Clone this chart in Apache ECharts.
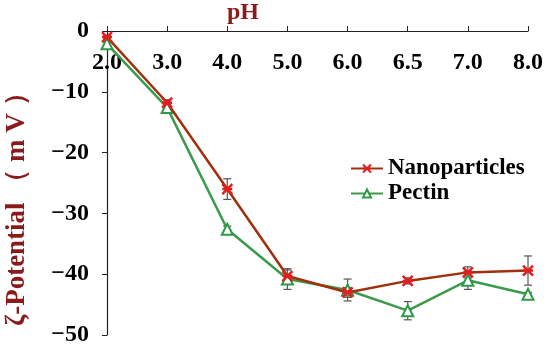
<!DOCTYPE html>
<html><head><meta charset="utf-8">
<script src="https://cdn.jsdelivr.net/npm/echarts@6/dist/echarts.min.js"></script>
<style>html,body{margin:0;padding:0;background:#fff}#c{width:550px;height:348px}</style>
</head><body><div id="c"></div>
<script>
const categories = ['2.0','3.0','4.0','5.0','6.0','6.5','7.0','8.0'];
const nanoValues = [-1.0, -11.8, -26.0, -40.3, -43.0, -41.1, -39.7, -39.4];
const nanoErr = [0.3, 0.5, 1.7, 1.0, 0.8, 0.5, 0.9, 2.4];
const pectinValues = [-2.1, -12.6, -32.6, -40.8, -42.6, -46.0, -41.0, -43.3];
const pectinErr = [0.3, 0.5, 0.5, 1.7, 1.8, 1.5, 1.5, 0.3];
const yTicks = [0, -10, -20, -30, -40, -50];

const FONT = '"Liberation Serif", "Times New Roman", serif';
const starPath = 'path://M0,0 L10,10 M10,0 L0,10 M0,5 L10,5';

function errSeries(vals, errs, color) {
  return {
    type: 'custom',
    silent: true,
    z: 1,
    data: vals.map((v, i) => [i, v, errs[i]]),
    renderItem: function (params, api) {
      const x = api.value(0), y = api.value(1), e = api.value(2);
      const top = api.coord([x, y + e]);
      const bot = api.coord([x, y - e]);
      const w = 4;
      return {
        type: 'group',
        children: [
          {type: 'line', shape: {x1: top[0], y1: top[1], x2: bot[0], y2: bot[1]}, style: {stroke: color, lineWidth: 1.2}},
          {type: 'line', shape: {x1: top[0]-w, y1: top[1], x2: top[0]+w, y2: top[1]}, style: {stroke: color, lineWidth: 1.2}},
          {type: 'line', shape: {x1: bot[0]-w, y1: bot[1], x2: bot[0]+w, y2: bot[1]}, style: {stroke: color, lineWidth: 1.2}}
        ]
      };
    }
  };
}

const chart = echarts.init(document.getElementById('c'));
chart.setOption({
  animation: false,
  backgroundColor: '#fff',
  grid: {left: 107, right: 22, top: 31, bottom: 13},
  xAxis: {
    type: 'category',
    data: categories,
    position: 'top',
    boundaryGap: false,
    axisLine: {lineStyle: {color: '#222', width: 1.2}},
    axisTick: {inside: false, length: 5, alignWithLabel: true, lineStyle: {color: '#222'}},
    axisLabel: {inside: true, margin: 20, color: '#000', fontFamily: FONT, fontWeight: 'bold', fontSize: 24},
    splitLine: {show: false}
  },
  yAxis: {
    type: 'value',
    min: -50, max: 0, interval: 10,
    axisLine: {show: true, lineStyle: {color: '#222', width: 1.2}},
    axisTick: {show: true, length: 5, lineStyle: {color: '#222'}},
    axisLabel: {margin: 18, color: '#000', fontFamily: FONT, fontWeight: 'bold', fontSize: 24,
      formatter: v => (yTicks.includes(v) ? (v < 0 ? '\u2212' + Math.abs(v) : String(v)) : '')},
    splitLine: {show: false}
  },
  legend: {
    orient: 'vertical',
    left: 345, top: 152,
    itemWidth: 32, itemHeight: 10, itemGap: 2,
    textStyle: {color: '#000', fontFamily: FONT, fontWeight: 'bold', fontSize: 23},
    data: ['Nanoparticles', 'Pectin']
  },
  graphic: [
    {type: 'text', left: 227, top: 1, style: {text: 'pH', fill: '#8b1a1a', font: 'bold 24px ' + FONT}},
    {type: 'text', x: 4, y: 326, rotation: Math.PI / 2, style: {text: 'ζ-Potential （ m V ）', fill: '#8b1a1a', font: 'bold 27px ' + FONT, textAlign: 'left', textVerticalAlign: 'top'},
     originX: 0, originY: 0}
  ],
  series: [
    errSeries(nanoValues, nanoErr, '#555'),
    errSeries(pectinValues, pectinErr, '#555'),
    {
      name: 'Pectin', type: 'line', data: pectinValues, z: 3,
      lineStyle: {color: '#3c9a4c', width: 2.5},
      itemStyle: {color: '#fff', borderColor: '#2e9a46', borderWidth: 2},
      symbol: 'triangle', symbolSize: 11, showSymbol: true
    },
    {
      name: 'Nanoparticles', type: 'line', data: nanoValues, z: 4,
      lineStyle: {color: '#a0300e', width: 2.5},
      itemStyle: {color: '#e02020', borderColor: '#e02020', borderWidth: 2.5},
      symbol: starPath, symbolSize: 10, showSymbol: true
    }
  ]
});
</script></body></html>
